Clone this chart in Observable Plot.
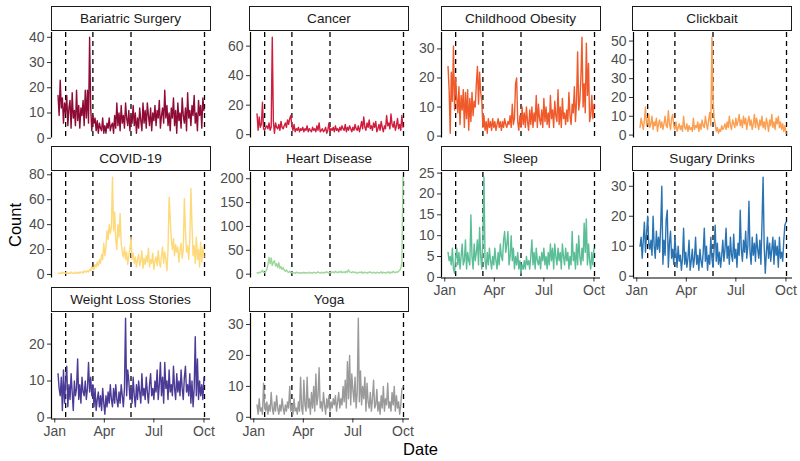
<!DOCTYPE html>
<html><head><meta charset="utf-8">
<script src="https://cdn.jsdelivr.net/npm/d3@7"></script>
<script src="https://cdn.jsdelivr.net/npm/@observablehq/plot@0.6"></script>
<style>
body{margin:0;background:#fff;}
#chart{position:relative;width:800px;height:461px;font-family:"Liberation Sans",Arial,Helvetica,sans-serif;overflow:hidden;background:#fff;}
.strip{position:absolute;box-sizing:border-box;border:1.5px solid #1a1a1a;background:#fff;font-size:13.6px;color:#1a1a1a;display:flex;align-items:center;justify-content:center;white-space:nowrap;}
.panel{position:absolute;}
.panel svg{overflow:visible;}
.title{position:absolute;font-size:16.5px;color:#000;white-space:nowrap;}
</style></head><body><div id="chart"></div>
<script>
// ---- data (every second day, 2020-01-07 .. 2020-10-01) ----
const categories = ["Bariatric Surgery","Cancer","Childhood Obesity","Clickbait","COVID-19","Heart Disease","Sleep","Sugary Drinks","Weight Loss Stories","Yoga"];
const seriesColors = ["#8E0B36","#CF1D3E","#F05A2B","#FC9E4F","#FED97A","#9FD69A","#5BBE96","#2A73B3","#4B3A96","#9A9A9A"];

const bariatricSurgery = [
17,9,23,12,16,6,14,10,17,5,
12,15,4,18,8,11,5,19,7,13,
4,12,9,15,5,19,8,19,6,40,
12,3,9,6,8,3,7,2,6,4,
3,8,2,5,2,6,4,8,3,5,
6,2,9,4,14,5,10,3,13,6,
9,4,14,8,5,11,3,9,6,13,
5,10,2,8,4,12,7,3,14,6,
11,4,14,9,5,12,3,10,7,13,
5,11,8,15,4,9,12,6,19,8,
13,5,10,3,12,8,16,5,11,2,
14,7,10,4,16,9,6,12,3,18,
8,11,5,13,9,17,6,10,3,15,
9,13,4,16,11];
const cancer = [
14,3,12,5,7,22,4,3,5,6,
4,8,3,5,66,9,1,8,5,4,
7,3,9,5,4,6,8,5,10,7,
11,13,6,3,7,2,4,3,5,2,
4,3,5,2,4,3,6,2,4,3,
2,5,3,4,2,6,3,8,2,3,
4,2,3,5,1,3,8,2,4,3,
5,2,6,3,4,2,5,3,6,4,
3,7,2,5,3,6,4,2,5,3,
7,4,3,6,2,5,9,4,12,5,
3,8,5,10,4,6,3,8,5,9,
2,4,7,3,9,5,2,6,4,13,
6,8,4,14,7,5,9,3,6,11,
4,7,3,13,5];
const childhoodObesity = [
24,16,1,22,12,31,9,20,13,8,
17,4,14,9,16,3,15,6,16,2,
13,5,15,7,12,10,18,24,11,22,
15,12,3,7,2,5,1,6,3,5,
2,6,3,5,2,4,6,3,5,2,
5,3,6,4,3,5,4,7,3,11,
4,6,18,20,5,2,7,3,10,4,
8,3,10,5,2,9,4,10,3,8,
5,14,3,11,6,4,9,3,13,5,
10,4,8,3,14,6,9,3,12,7,
5,16,4,10,3,13,6,8,4,9,
5,15,7,4,11,8,17,5,12,29,
9,12,20,34,10,18,8,32,14,25,
5,7,14,6,11];
const clickbait = [
4,9,6,3,8,15,5,7,11,4,
6,10,3,7,5,9,2,6,8,4,
7,3,6,10,5,4,13,6,3,9,
11,5,3,7,2,4,6,3,5,2,
10,4,3,6,2,5,3,4,2,9,
3,5,4,7,2,6,3,8,5,4,
10,6,3,8,12,5,52,20,9,6,
2,4,1,3,2,5,3,4,6,3,
7,4,10,5,3,8,6,4,9,5,
7,11,5,8,4,10,6,9,3,7,
10,5,8,3,6,11,4,9,6,3,
8,5,10,4,7,3,9,6,2,8,
5,11,4,7,3,9,6,10,4,7,
3,6,2,5,1];
const covid19 = [
1,1,1,1,2,1,1,1,2,1,
1,1,2,1,1,1,2,1,1,2,
1,2,2,1,3,2,2,3,2,4,
3,6,5,4,8,6,10,7,12,9,
16,12,25,15,22,35,28,40,33,38,
78,35,50,28,20,40,30,49,25,18,
14,22,12,18,8,15,20,30,12,17,
9,14,6,12,16,7,11,19,5,13,
8,15,10,21,6,12,9,17,4,11,
14,7,19,10,6,15,22,9,18,12,
3,20,62,45,28,20,29,15,24,18,
22,10,19,25,13,20,61,35,18,23,
12,28,69,40,15,23,9,30,12,20,
6,26,10,22,14];
const heartDisease = [
3,2,4,3,5,8,4,3,6,10,
20,35,22,34,18,25,28,17,22,14,
24,12,16,10,14,8,6,9,5,4,
6,3,4,2,3,2,4,3,2,3,
2,3,2,4,2,3,2,3,4,2,
3,2,4,3,2,3,5,3,2,4,
3,2,4,3,5,3,2,4,3,5,
4,3,6,4,3,5,4,6,3,4,
5,3,6,4,9,5,4,3,5,4,
3,4,2,3,4,3,5,2,3,4,
3,2,4,3,5,3,2,4,3,2,
4,3,2,3,5,2,4,3,2,4,
3,5,2,4,3,6,4,3,5,4,
6,8,12,25,203];
const sleep = [
6,4,5,3,7,2,1,5,7,3,
6,2,5,8,3,4,9,2,6,4,
3,15,5,2,8,4,6,9,3,12,
5,2,9,24,4,2,6,3,7,4,
2,5,3,7,4,2,6,3,8,5,
4,9,11,6,8,11,3,5,10,4,
7,2,5,3,6,2,4,1,3,2,
4,2,5,3,4,2,5,9,3,6,
2,7,4,3,5,2,6,4,7,3,
5,2,6,3,8,4,7,2,8,5,
3,7,4,6,2,8,5,3,7,4,
6,2,5,3,11,4,6,2,8,3,
10,5,3,7,4,13,6,14,3,8,
4,2,6,3,7];
const sugaryDrinks = [
10,13,6,12,18,8,14,20,11,9,
12,7,20,10,6,15,9,13,8,17,
30,4,12,7,19,22,3,11,15,6,
9,4,13,8,3,10,5,7,2,6,
16,4,8,3,6,12,2,5,9,3,
6,13,4,7,2,9,5,3,8,16,
5,10,2,7,4,13,6,3,9,17,
5,11,4,8,3,7,12,5,9,16,
6,10,4,13,7,5,14,6,9,3,
11,7,22,9,5,12,8,15,6,10,
25,8,4,13,7,11,5,14,9,6,
12,4,18,33,10,1,8,13,6,11,
5,9,13,4,12,7,10,3,13,6,
8,5,12,17,18];
const weightLossStories = [
12,8,6,11,2,13,4,10,14,3,
9,5,12,7,2,10,6,8,16,5,
9,4,11,7,6,10,5,8,15,7,
11,6,9,3,8,2,5,7,3,6,
2,8,4,1,6,3,7,4,9,5,
3,8,4,9,5,3,7,4,9,6,
3,8,27,6,13,10,5,8,4,11,
6,3,9,5,10,7,4,12,6,8,
5,11,7,4,9,12,6,8,5,10,
7,13,5,9,15,6,11,4,15,8,
10,5,13,7,9,6,14,8,5,12,
7,10,6,13,8,5,11,14,7,9,
6,12,4,10,3,8,22,6,16,5,
10,6,9,5,11];
const yoga = [
4,1,6,2,3,1,11,3,2,5,
1,4,2,8,3,1,5,2,7,3,
1,4,2,6,3,1,4,2,5,3,
10,2,4,1,6,2,3,1,5,2,
13,3,1,12,4,2,13,3,6,1,
8,3,10,2,14,4,7,16,3,5,
2,8,4,1,6,3,7,2,5,3,
6,4,7,2,5,8,3,6,4,10,
5,12,3,18,6,20,4,14,9,5,
13,3,8,32,5,15,4,10,6,13,
2,11,5,3,8,2,6,12,3,4,
9,2,5,1,7,3,10,2,6,4,
11,3,5,2,8,4,10,2,7,3,
5,1,4,9,10];

const seriesValues = [bariatricSurgery,cancer,childhoodObesity,clickbait,covid19,heartDisease,sleep,sugaryDrinks,weightLossStories,yoga];

const yTicksBariatric = [0,10,20,30,40];
const yTicksCancer = [0,20,40,60];
const yTicksChildhood = [0,10,20,30];
const yTicksClickbait = [0,10,20,30,40,50];
const yTicksCovid = [0,20,40,60,80];
const yTicksHeart = [0,50,100,150,200];
const yTicksSleep = [0,5,10,15,20,25];
const yTicksSugary = [0,10,20,30];
const yTicksWeight = [0,10,20];
const yTicksYoga = [0,10,20,30];
const yTickSets = [yTicksBariatric,yTicksCancer,yTicksChildhood,yTicksClickbait,yTicksCovid,yTicksHeart,yTicksSleep,yTicksSugary,yTicksWeight,yTicksYoga];

const xTickLabels = ["Jan","Apr","Jul","Oct"];
const xTickDates = ["2020-01-01","2020-04-01","2020-07-01","2020-10-01"].map(s => new Date(s + "T00:00:00Z"));
const eventDates = ["2020-01-21","2020-03-11","2020-05-20","2020-10-02"].map(s => new Date(s + "T00:00:00Z"));
const startDate = new Date("2020-01-07T00:00:00Z");
const xDomain = [new Date("2019-12-26T00:00:00Z"), new Date("2020-10-13T00:00:00Z")];

// ---- layout ----
const colLeft = [51, 249.5, 441, 632.5];
const rowTop = [31.5, 171.5, 312.5];
const PW = 159, PH = 105.5;
const FONT = '"Liberation Sans",Arial,Helvetica,sans-serif';

const root = document.getElementById("chart");

categories.forEach((name, i) => {
  const row = Math.floor(i / 4), col = i % 4;
  const L = colLeft[col], T = rowTop[row];
  const vals = seriesValues[i];
  const data = vals.map((v, k) => ({date: d3.utcDay.offset(startDate, 2 * k), value: v}));
  const mn = d3.min(vals), mx = d3.max(vals), r = mx - mn;
  const lo = mn - 0.05 * r, hi = mx + 0.05 * r;
  const showX = i >= 6;
  const mL = 44, mR = 4, mT = 4, mB = showX ? 26 : 4;

  const marks = [
    Plot.ruleX(eventDates, {stroke: "#000", strokeWidth: 1.3, strokeDasharray: "5,4"}),
    Plot.line(data, {x: "date", y: "value", stroke: seriesColors[i], strokeWidth: 1.4}),
    Plot.axisY({ticks: yTickSets[i], tickSize: 4, tickPadding: 3, label: null, stroke: "#333", fill: "#4d4d4d", fontSize: 14}),
    Plot.ruleX([xDomain[0]], {stroke: "#000", strokeWidth: 1.2})
  ];
  if (showX) {
    marks.push(Plot.axisX({ticks: xTickDates, tickSize: 4, tickPadding: 3, label: null, stroke: "#333", fill: "#4d4d4d", fontSize: 14,
      tickFormat: d => xTickLabels[xTickDates.findIndex(t => +t === +d)]}));
    marks.push(Plot.ruleY([lo], {stroke: "#000", strokeWidth: 1.2}));
  }

  const svg = Plot.plot({
    width: PW + mL + mR, height: PH + mT + mB,
    marginLeft: mL, marginRight: mR, marginTop: mT, marginBottom: mB,
    style: {fontFamily: FONT, fontSize: "14px", color: "#4d4d4d", background: "transparent", overflow: "visible"},
    x: {type: "utc", domain: xDomain, axis: showX ? undefined : null},
    y: {domain: [lo, hi]},
    marks
  });
  const wrap = document.createElement("div");
  wrap.className = "panel";
  wrap.style.left = (L - mL) + "px";
  wrap.style.top = (T - mT) + "px";
  wrap.appendChild(svg);
  root.appendChild(wrap);

  const strip = document.createElement("div");
  strip.className = "strip";
  strip.style.left = (L - 0.5) + "px";
  strip.style.top = (T - 26) + "px";
  strip.style.width = (PW + 1) + "px";
  strip.style.height = "25px";
  strip.textContent = name;
  root.appendChild(strip);
});

const yTitle = document.createElement("div");
yTitle.className = "title";
yTitle.textContent = "Count";
yTitle.style.left = "14.5px"; yTitle.style.top = "225px";
yTitle.style.transform = "translate(-50%,-50%) rotate(-90deg)";
root.appendChild(yTitle);

const xTitle = document.createElement("div");
xTitle.className = "title";
xTitle.textContent = "Date";
xTitle.style.left = "420.5px"; xTitle.style.top = "449px";
xTitle.style.transform = "translate(-50%,-50%)";
root.appendChild(xTitle);
</script></body></html>
